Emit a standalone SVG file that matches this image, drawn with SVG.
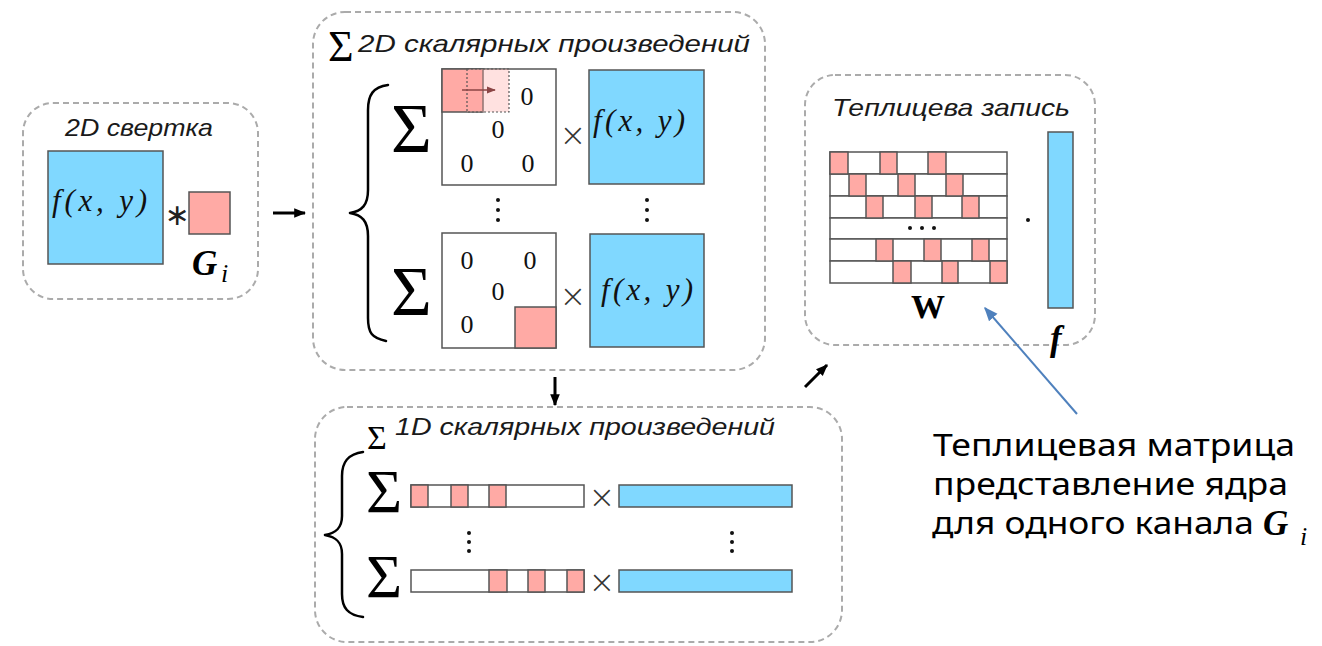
<svg xmlns="http://www.w3.org/2000/svg" width="1322" height="646" viewBox="0 0 1322 646">
<defs>
<style>
.box{fill:none;stroke:#ABABAB;stroke-width:2;stroke-dasharray:6 4}
.title{font-family:"Liberation Sans",Arial,sans-serif;font-style:italic;font-size:24px;fill:#1a1a1a}
.blue{fill:#80D8FF;stroke:#555;stroke-width:1.5}
.pink{fill:#FFAAA5;stroke:#555;stroke-width:1.5}
.white{fill:#fff;stroke:#555;stroke-width:1.5}
.math{font-family:"Liberation Serif",serif;font-style:italic;font-size:31px;fill:#111}
.zero{font-family:"Liberation Serif",serif;font-size:26px;fill:#111;text-anchor:middle}
.sig{font-family:"Liberation Serif",serif;fill:#000}
.times{font-family:"DejaVu Sans",sans-serif;font-weight:300;font-size:32px;fill:#333;text-anchor:middle}
.brace{fill:none;stroke:#000;stroke-width:2.5;stroke-linecap:round;stroke-linejoin:round}
.conn{stroke:#000;stroke-width:3;fill:none}
.cap{font-family:"Noto Sans","Open Sans",sans-serif;font-size:30px;fill:#000}
.dot{fill:#111}
</style>
<marker id="ah" viewBox="0 0 10 10" refX="9" refY="5" markerWidth="4" markerHeight="4" orient="auto">
<path d="M0,1 L10,5 L0,9 z" fill="#000"/>
</marker>
<marker id="ahb" viewBox="0 0 10 10" refX="9" refY="5" markerWidth="7" markerHeight="7" orient="auto">
<path d="M0,1 L10,5 L0,9 z" fill="#4F81BD"/>
</marker>
<marker id="ahs" viewBox="0 0 10 10" refX="9" refY="5" markerWidth="6" markerHeight="6" orient="auto">
<path d="M0,1 L10,5 L0,9 z" fill="#8B4545"/>
</marker>
</defs>
<rect width="1322" height="646" fill="#fff"/>

<g id="node-conv2d">
<rect class="box" x="23" y="103" width="235" height="196" rx="30"/>
<text class="title" x="65" y="136" textLength="148" lengthAdjust="spacingAndGlyphs">2D свертка</text>
<rect class="blue" x="48" y="151" width="115" height="113"/>
<text class="math" x="52" y="211" textLength="95" lengthAdjust="spacing">f(x, y)</text>
<text x="177" y="225" font-family="DejaVu Sans,sans-serif" font-size="30" text-anchor="middle" fill="#222">∗</text>
<rect class="pink" x="189" y="192" width="41" height="42"/>
<text x="192" y="275" font-family="Liberation Serif,serif" font-weight="bold" font-style="italic" font-size="35" fill="#000">G</text>
<text x="221" y="282" font-family="Liberation Serif,serif" font-style="italic" font-size="26" fill="#000">i</text>
</g>

<g id="node-dot2d">
<rect class="box" x="313" y="12" width="452" height="358" rx="32"/>
<text class="sig" x="328" y="61" font-size="44">Σ</text>
<text class="title" x="358" y="52" textLength="392" lengthAdjust="spacingAndGlyphs">2D скалярных произведений</text>
<path class="brace" d="M388,85 C373,87 368,95 368,110 L368,190 C368,205 362,211 350,213 C362,215 368,221 368,236 L368,318 C368,333 372,338 386,341"/>
<text class="sig" x="391" y="152" font-size="70">Σ</text>
<rect class="white" x="442" y="69" width="114" height="116"/>
<rect class="pink" x="442" y="69" width="41" height="43"/>
<rect x="467" y="69" width="42" height="43" fill="#FFAAA5" fill-opacity="0.35" stroke="#555" stroke-width="1.2" stroke-dasharray="2 2"/>
<line x1="462" y1="90" x2="495" y2="90" stroke="#8B4545" stroke-width="1.5" marker-end="url(#ahs)"/>
<text class="zero" x="527" y="105">0</text>
<text class="zero" x="498" y="138">0</text>
<text class="zero" x="467" y="172">0</text>
<text class="zero" x="528" y="172">0</text>
<text class="times" x="573" y="146">×</text>
<rect class="blue" x="589" y="70" width="115" height="114"/>
<text class="math" x="593" y="131" textLength="92" lengthAdjust="spacing">f(x, y)</text>
<circle class="dot" cx="498" cy="200" r="2"/><circle class="dot" cx="498" cy="210" r="2"/><circle class="dot" cx="498" cy="220" r="2"/>
<circle class="dot" cx="647" cy="200" r="2"/><circle class="dot" cx="647" cy="210" r="2"/><circle class="dot" cx="647" cy="220" r="2"/>
<text class="sig" x="391" y="315" font-size="70">Σ</text>
<rect class="white" x="442" y="233" width="114" height="115"/>
<rect class="pink" x="515" y="307" width="41" height="41"/>
<text class="zero" x="467" y="269">0</text>
<text class="zero" x="530" y="269">0</text>
<text class="zero" x="498" y="300">0</text>
<text class="zero" x="467" y="333">0</text>
<text class="times" x="573" y="307">×</text>
<rect class="blue" x="590" y="234" width="114" height="113"/>
<text class="math" x="601" y="300" textLength="92" lengthAdjust="spacing">f(x, y)</text>
</g>

<g id="node-dot1d">
<rect class="box" x="315" y="407" width="527" height="235" rx="32"/>
<text class="sig" x="367" y="449" font-size="34">Σ</text>
<text class="title" x="395" y="435" textLength="380" lengthAdjust="spacingAndGlyphs">1D скалярных произведений</text>
<path class="brace" d="M363,452 C348,454 342,462 342,476 L342,516 C342,528 336,533 325,535 C336,537 342,542 342,554 L342,594 C342,608 348,615 363,617"/>
<text class="sig" x="366" y="512" font-size="62">Σ</text>
<rect class="white" x="411" y="485" width="173" height="22"/>
<rect class="pink" x="411" y="485" width="17" height="22"/>
<rect class="pink" x="451" y="485" width="17" height="22"/>
<rect class="pink" x="489" y="485" width="17" height="22"/>
<text class="times" x="602" y="508">×</text>
<rect class="blue" x="619" y="485" width="173" height="22"/>
<circle class="dot" cx="469" cy="533" r="2"/><circle class="dot" cx="469" cy="542" r="2"/><circle class="dot" cx="469" cy="551" r="2"/>
<circle class="dot" cx="732" cy="533" r="2"/><circle class="dot" cx="732" cy="542" r="2"/><circle class="dot" cx="732" cy="551" r="2"/>
<text class="sig" x="366" y="597" font-size="62">Σ</text>
<rect class="white" x="411" y="570" width="173" height="22"/>
<rect class="pink" x="489" y="570" width="18" height="22"/>
<rect class="pink" x="528" y="570" width="17" height="22"/>
<rect class="pink" x="567" y="570" width="17" height="22"/>
<text class="times" x="602" y="593">×</text>
<rect class="blue" x="619" y="570" width="173" height="22"/>
</g>

<g id="node-toeplitz">
<rect class="box" x="805" y="75" width="290" height="270" rx="30"/>
<text class="title" x="832" y="116" textLength="238" lengthAdjust="spacingAndGlyphs">Теплицева запись</text>
<rect class="white" x="830" y="152" width="177" height="22"/>
<rect class="white" x="830" y="174" width="177" height="22"/>
<rect class="white" x="830" y="196" width="177" height="22"/>
<rect class="white" x="830" y="218" width="177" height="21"/>
<rect class="white" x="830" y="239" width="177" height="22"/>
<rect class="white" x="830" y="261" width="177" height="22"/>
<rect class="pink" x="830" y="152" width="18" height="22"/>
<rect class="pink" x="880" y="152" width="17" height="22"/>
<rect class="pink" x="928" y="152" width="18" height="22"/>
<rect class="pink" x="849" y="174" width="17" height="22"/>
<rect class="pink" x="898" y="174" width="17" height="22"/>
<rect class="pink" x="946" y="174" width="17" height="22"/>
<rect class="pink" x="866" y="196" width="17" height="22"/>
<rect class="pink" x="915" y="196" width="17" height="22"/>
<rect class="pink" x="962" y="196" width="17" height="22"/>
<rect class="pink" x="876" y="239" width="17" height="22"/>
<rect class="pink" x="924" y="239" width="17" height="22"/>
<rect class="pink" x="972" y="239" width="17" height="22"/>
<rect class="pink" x="893" y="261" width="18" height="22"/>
<rect class="pink" x="942" y="261" width="16" height="22"/>
<rect class="pink" x="990" y="261" width="17" height="22"/>
<circle class="dot" cx="910" cy="228" r="2"/><circle class="dot" cx="922" cy="228" r="2"/><circle class="dot" cx="934" cy="228" r="2"/>
<circle class="dot" cx="1028" cy="220" r="2"/>
<rect class="blue" x="1048" y="132" width="25" height="176"/>
<text x="928" y="318" font-family="Liberation Serif,serif" font-weight="bold" font-size="34" text-anchor="middle" fill="#000">W</text>
<text x="1050" y="350" font-family="Liberation Serif,serif" font-weight="bold" font-style="italic" font-size="35" fill="#000">f</text>
</g>

<g id="node-caption">
<text class="cap" x="933" y="456" textLength="362" lengthAdjust="spacingAndGlyphs">Теплицевая матрица</text>
<text class="cap" x="933" y="495" textLength="355" lengthAdjust="spacingAndGlyphs">представление ядра</text>
<text class="cap" x="932" y="534" textLength="322" lengthAdjust="spacingAndGlyphs">для одного канала</text>
<text x="1263" y="535" font-family="Liberation Serif,serif" font-weight="bold" font-style="italic" font-size="35" fill="#000">G</text>
<text x="1300" y="545" font-family="Liberation Serif,serif" font-style="italic" font-size="26" fill="#000">i</text>
</g>

<g id="connectors">
<line class="conn" x1="273" y1="213" x2="305" y2="213" marker-end="url(#ah)"/>
<line class="conn" x1="555" y1="377" x2="555" y2="405" marker-end="url(#ah)"/>
<line class="conn" x1="805" y1="387" x2="827" y2="365" marker-end="url(#ah)"/>
<line x1="1077" y1="414" x2="985" y2="308" stroke="#4F81BD" stroke-width="2" marker-end="url(#ahb)"/>
</g>
</svg>
